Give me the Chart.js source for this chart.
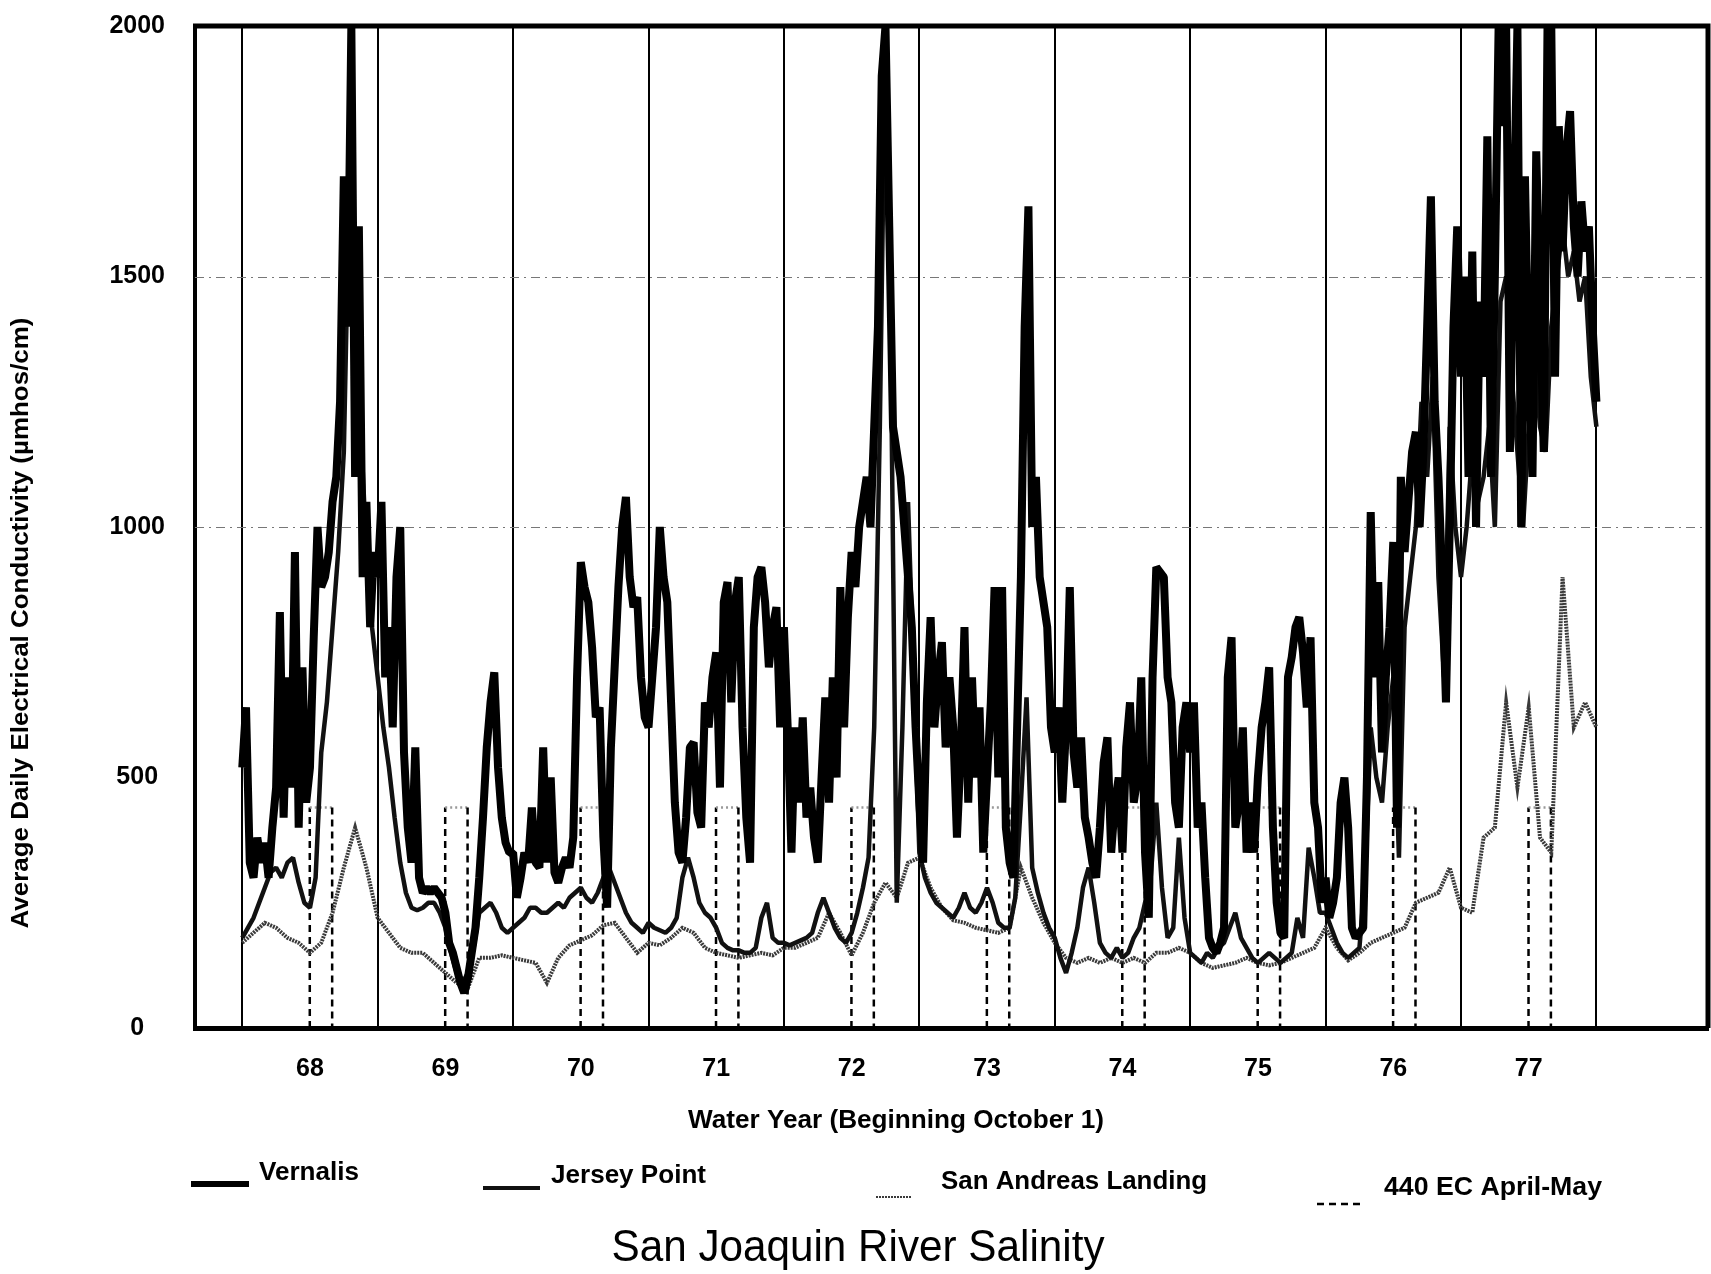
<!DOCTYPE html>
<html>
<head>
<meta charset="utf-8">
<title>San Joaquin River Salinity</title>
<script src="https://cdn.jsdelivr.net/npm/chart.js@4.4.1/dist/chart.umd.min.js"></script>
<style>
  html, body { margin: 0; padding: 0; background: #fff; }
  #wrap { width: 1711px; height: 1274px; position: relative; }
</style>
</head>
<body>
<div id="wrap"><canvas id="salinityChart"></canvas></div>
<script>
// water years shown on the axis (label sits in the middle of each year)
const yearLabels = [68, 69, 70, 71, 72, 73, 74, 75, 76, 77];

// Vernalis, 36 readings per water year (about every 10 days), last value = end of WY77
const vernalis = [
    520, 640, 330, 300, 380, 330, 370, 300, 400, 480, 830, 420, 700, 480, 950, 400, 720, 450, 520, 780, 1000, 880, 900, 950, 1050, 1100, 1250, 1700, 1400, 2000, 1100, 1600, 900, 1050, 800, 950,
    900, 1050, 700, 800, 600, 900, 1000, 550, 400, 330, 560, 300, 270, 280, 270, 280, 270, 260, 230, 170, 150, 120, 90, 70, 100, 150, 200, 300, 420, 560, 650, 710, 520, 420, 370, 350,
    350, 260, 300, 350, 330, 440, 330, 320, 560, 330, 500, 310, 290, 320, 340, 320, 380, 700, 930, 880, 850, 760, 620, 640, 380, 240, 560, 720, 880, 1000, 1060, 900, 840, 860, 700, 620,
    600, 700, 800, 1000, 900, 850, 650, 450, 350, 330, 420, 560, 570, 430, 400, 650, 600, 700, 750, 480, 850, 890, 650, 850, 900, 600, 420, 330, 800, 900, 920, 850, 720, 800, 840, 600,
    800, 600, 350, 600, 450, 620, 420, 480, 380, 330, 500, 660, 450, 700, 500, 880, 600, 820, 950, 880, 1000, 1050, 1100, 1000, 1200, 1400, 1900, 2000, 1600, 1200, 1150, 1100, 1000, 900, 800, 600,
    450, 330, 650, 820, 600, 700, 770, 560, 700, 600, 380, 550, 800, 450, 700, 500, 640, 350, 500, 650, 880, 500, 880, 400, 330, 300, 600, 900, 1400, 1640, 1000, 1100, 900, 850, 800, 600,
    550, 640, 450, 600, 880, 550, 480, 580, 420, 380, 330, 300, 400, 530, 580, 350, 450, 500, 350, 560, 650, 450, 500, 700, 350, 220, 700, 920, 910, 900, 700, 650, 450, 400, 600, 650,
    550, 650, 400, 450, 300, 180, 160, 150, 170, 200, 700, 780, 400, 450, 600, 350, 450, 350, 500, 600, 650, 720, 400, 250, 190, 180, 700, 740, 800, 820, 750, 640, 780, 450, 400, 250,
    300, 220, 250, 300, 450, 500, 400, 200, 180, 190, 200, 500, 1030, 700, 890, 550, 700, 800, 970, 400, 1100, 950, 1050, 1150, 1190, 1000, 1150, 1400, 1660, 1250, 1100, 900, 650, 1000, 1400, 1600,
    1300, 1500, 1100, 1550, 1000, 1450, 1300, 1780, 1100, 1500, 2000, 1800, 2000, 1150, 1600, 2000, 1000, 1700, 1300, 1100, 1750, 1450, 1150, 2000, 2000, 1300, 1800, 1550, 1750, 1830, 1600, 1500, 1650, 1550, 1600, 1400,
    1250
];

// Jersey Point, 24 readings per water year
const jerseyPoint = [
    180, 200, 220, 250, 280, 310, 320, 300, 330, 340, 290, 250, 240, 300, 550, 650, 800, 950, 1150, 1700, 1400, 1200, 950, 800,
    700, 600, 520, 420, 330, 270, 240, 235, 240, 250, 250, 230, 200, 150, 110, 90, 110, 160, 230, 240, 250, 230, 200, 190,
    200, 210, 220, 240, 240, 230, 230, 240, 250, 240, 260, 270, 280, 260, 250, 270, 300, 320, 290, 260, 230, 210, 200, 190,
    210, 200, 195, 190, 200, 220, 300, 340, 300, 250, 230, 220, 200, 170, 160, 155, 155, 150, 150, 160, 220, 250, 180, 170,
    170, 165, 170, 175, 180, 190, 230, 260, 230, 200, 180, 170, 190, 230, 280, 340, 600, 1200, 2000, 1300, 250, 600, 1050, 700,
    350, 300, 270, 250, 240, 230, 220, 240, 270, 240, 230, 250, 280, 250, 210, 200, 200, 260, 450, 660, 320, 270, 230, 200,
    180, 140, 110, 150, 200, 280, 320, 250, 170, 150, 140, 160, 140, 150, 180, 200, 250, 300, 450, 280, 180, 200, 380, 220,
    150, 140, 130, 150, 140, 160, 170, 200, 230, 180, 160, 140, 130, 140, 150, 140, 130, 140, 150, 220, 180, 360, 300, 230,
    230, 200, 170, 150, 140, 150, 160, 300, 600, 500, 450, 600, 700, 340, 800, 900, 1000, 1250, 1100, 1300, 900, 700, 1200, 1000,
    900, 1000, 1150, 1050, 1100, 1200, 1000, 1450, 1500, 1300, 1150, 1000, 1200, 1350, 1200, 1150, 1400, 1500, 1600, 1500, 1550, 1450, 1500, 1300,
    1200
];

// San Andreas Landing, 12 readings per water year
const sanAndreas = [
    170, 190, 210, 200, 180, 170, 150, 170, 230, 320, 400, 320,
    220, 190, 160, 150, 150, 130, 110, 90, 80, 140, 140, 145,
    140, 135, 130, 90, 140, 165, 175, 185, 205, 210, 180, 150,
    170, 165, 180, 200, 190, 160, 150, 145, 140, 145, 150, 145,
    160, 160, 170, 180, 230, 190, 145, 190, 250, 290, 260, 330,
    340, 280, 240, 215, 210, 200, 195, 190, 200, 320, 260, 210,
    170, 140, 130, 140, 130, 140, 130, 140, 130, 150, 150, 160,
    150, 130, 120, 125, 130, 140, 130, 125, 130, 140, 150, 160,
    200, 160, 135, 150, 170, 180, 190, 200, 250, 260, 270, 320,
    240, 230, 380, 400, 650, 480, 640, 380, 350, 900, 600, 650,
    600
];

// 440 EC standard, April 1 to May 31 (as fraction of the water year)
const ecLimit = 440;
const ecWindow = [0.4986, 0.6639];

const gridLevels = [1000, 1500];

const sans = '"Liberation Sans", Arial, sans-serif';

function toPoints(values, perYear) {
    return values.map((v, i) => ({x: yearLabels[0] - 0.5 + i / perYear, y: v}));
}

function ecPoints() {
    const pts = [];
    yearLabels.forEach(yr => {
        const a = yr - 0.5 + ecWindow[0];
        const b = yr - 0.5 + ecWindow[1];
        pts.push({x: a, y: 0}, {x: a, y: ecLimit}, {x: b, y: ecLimit}, {x: b, y: 0}, {x: b, y: null});
    });
    return pts;
}

// text squeezed to a given width, to mimic the narrow face of the original
function fitText(ctx, text, x, y, font, width, align) {
    ctx.save();
    ctx.font = font;
    const w = ctx.measureText(text).width;
    const k = width / w;
    ctx.translate(x, y);
    ctx.scale(k, 1);
    ctx.textAlign = align;
    ctx.textBaseline = 'middle';
    ctx.fillText(text, 0, 0);
    ctx.restore();
}

const xMin = 67.151, xMax = 78.324;

const decorations = {
    id: 'decorations',
    beforeDatasetsDraw(chart) {
        const {ctx, chartArea: a, scales: {y}} = chart;
        ctx.save();
        ctx.strokeStyle = '#777';
        ctx.lineWidth = 1;
        ctx.setLineDash([9, 5, 2, 5]);
        gridLevels.forEach(v => {
            const py = Math.round(y.getPixelForValue(v)) + 0.5;
            ctx.beginPath();
            ctx.moveTo(a.left, py);
            ctx.lineTo(a.right, py);
            ctx.stroke();
        });
        ctx.restore();
    },
    afterDraw(chart) {
        const {ctx, chartArea: a} = chart;
        ctx.save();
        // frame top and right
        ctx.strokeStyle = '#000';
        ctx.lineWidth = 5;
        ctx.beginPath();
        ctx.moveTo(a.left - 2, a.top);
        ctx.lineTo(a.right, a.top);
        ctx.lineTo(a.right, a.bottom);
        ctx.stroke();
        ctx.fillStyle = '#000';

        // y axis title
        ctx.save();
        ctx.translate(21, 623);
        ctx.rotate(-Math.PI / 2);
        fitText(ctx, 'Average Daily Electrical Conductivity (\u00b5mhos/cm)', 0, 0, 'bold 24px ' + sans, 611, 'center');
        ctx.restore();

        // x axis title
        fitText(ctx, 'Water Year (Beginning October 1)', 896, 1121, 'bold 26px ' + sans, 416, 'center');

        // legend
        const spots = [
            {x0: 191, x1: 249, ly: 1184, tx: 259, ty: 1173, w: 100},
            {x0: 483, x1: 540, ly: 1188, tx: 551, ty: 1176, w: 155},
            {x0: 876, x1: 911, ly: 1197, tx: 941, ty: 1182, w: 266},
            {x0: 1317, x1: 1364, ly: 1204, tx: 1384, ty: 1188, w: 218}
        ];
        chart.data.datasets.forEach((ds, i) => {
            const s = spots[i];
            ctx.save();
            ctx.strokeStyle = ds.borderColor;
            ctx.lineWidth = ds.legendWidth || ds.borderWidth;
            ctx.setLineDash(ds.borderDash || []);
            ctx.beginPath();
            ctx.moveTo(s.x0, s.ly);
            ctx.lineTo(s.x1, s.ly);
            ctx.stroke();
            ctx.restore();
            fitText(ctx, ds.label, s.tx, s.ty, 'bold 26px ' + sans, s.w, 'left');
        });

        // chart title
        fitText(ctx, 'San Joaquin River Salinity', 858, 1249, '45px ' + sans, 493, 'center');
        ctx.restore();
    }
};

new Chart(document.getElementById('salinityChart'), {
    type: 'line',
    data: {
        datasets: [
            {
                label: 'Vernalis',
                data: toPoints(vernalis, 36),
                borderColor: '#000',
                borderWidth: 8,
                legendWidth: 6,
                borderJoinStyle: 'bevel',
                pointRadius: 0,
                tension: 0
            },
            {
                label: 'Jersey Point',
                data: toPoints(jerseyPoint, 24),
                borderColor: '#111',
                borderWidth: 4.5,
                legendWidth: 4,
                borderJoinStyle: 'bevel',
                pointRadius: 0,
                tension: 0
            },
            {
                label: 'San Andreas Landing',
                data: toPoints(sanAndreas, 12),
                borderColor: '#3a3a3a',
                borderWidth: 4,
                legendWidth: 2,
                borderDash: [2, 1],
                pointRadius: 0,
                tension: 0
            },
            {
                label: '440 EC April-May',
                data: ecPoints(),
                borderColor: '#000',
                borderWidth: 2.5,
                borderDash: [7, 5],
                pointRadius: 0,
                tension: 0,
                segment: {
                    borderColor: c => c.p0.parsed.y === c.p1.parsed.y ? '#999' : '#000',
                    borderDash: c => c.p0.parsed.y === c.p1.parsed.y ? [2, 3] : [7, 5]
                }
            }
        ]
    },
    options: {
        responsive: true,
        maintainAspectRatio: false,
        animation: false,
        layout: {padding: {top: 26, right: 3, left: 0, bottom: 0}},
        plugins: {legend: {display: false}, tooltip: {enabled: false}},
        scales: {
            x: {
                type: 'linear',
                position: 'bottom',
                min: xMin,
                max: xMax,
                afterBuildTicks: s => { s.ticks = yearLabels.map(v => ({value: v})); },
                afterFit: s => { s.height = 246; s.paddingLeft = 0; s.paddingRight = 0; },
                ticks: {
                    color: '#000',
                    font: {family: sans, size: 25, weight: 'bold'},
                    padding: 26,
                    autoSkip: false,
                    maxRotation: 0,
                    callback: v => String(v)
                },
                grid: {display: false, drawTicks: false},
                border: {color: '#000', width: 5}
            },
            years: {
                type: 'linear',
                position: 'bottom',
                min: xMin,
                max: xMax,
                afterBuildTicks: s => {
                    s.ticks = yearLabels.concat([yearLabels[yearLabels.length - 1] + 1]).map(v => ({value: v - 0.5}));
                },
                afterFit: s => { s.height = 0; s.paddingLeft = 0; s.paddingRight = 0; },
                ticks: {display: false},
                grid: {color: '#000', lineWidth: 2, drawTicks: false},
                border: {display: false}
            },
            y: {
                min: 0,
                max: 2000,
                afterBuildTicks: s => { s.ticks = [0, 500, 1000, 1500, 2000].map(v => ({value: v})); },
                afterFit: s => { s.width = 195; s.paddingTop = 0; s.paddingBottom = 0; },
                ticks: {
                    color: '#000',
                    font: {family: sans, size: 25, weight: 'bold'},
                    padding: 30,
                    crossAlign: 'center',
                    callback: v => String(v)
                },
                grid: {display: false, drawTicks: false},
                border: {color: '#000', width: 4}
            }
        }
    },
    plugins: [decorations]
});
</script>
</body>
</html>
